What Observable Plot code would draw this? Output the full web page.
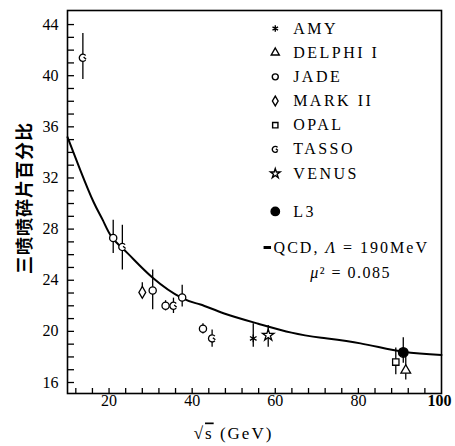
<!DOCTYPE html>
<html>
<head>
<meta charset="utf-8">
<script src="https://cdn.jsdelivr.net/npm/d3@7"></script>
<script src="https://cdn.jsdelivr.net/npm/@observablehq/plot@0.6"></script>
<style>
  html, body { margin: 0; padding: 0; background: #fff; }
  #chart svg { display: block; }
</style>
</head>
<body>
<div id="chart"></div>
<script>
// ---- data ----
const seriesNames = ["AMY", "DELPHI I", "JADE", "MARK II", "OPAL", "TASSO", "VENUS", "L3"];

// measurements: sqrt(s) in GeV, three-jet fraction (%), error bar low/high
const ptSeries = ["TASSO", "JADE", "TASSO", "MARK II", "JADE", "JADE", "TASSO", "JADE", "JADE", "TASSO", "AMY", "VENUS", "OPAL", "L3", "DELPHI I"];
const ptX      = [13.7, 21.0, 23.2, 28.0, 30.5, 33.6, 35.5, 37.6, 42.6, 44.8, 54.7, 58.3, 89.0, 90.8, 91.4];
const ptY      = [41.4, 27.3, 26.6, 23.05, 23.2, 22.0, 22.0, 22.65, 20.2, 19.45, 19.45, 19.7, 17.6, 18.35, 16.95];
const ptLo     = [39.7, 26.1, 24.8, 22.6, 21.7, 21.6, 21.4, 21.9, 19.8, 18.75, 18.75, 18.75, 16.6, 17.5, 16.2];
const ptHi     = [43.3, 28.7, 28.3, 23.8, 24.8, 22.4, 22.6, 23.6, 20.6, 20.1, 20.6, 20.45, 18.7, 19.5, 18.3];

// QCD curve (Λ = 190 MeV)
const qcdX = [10, 13.1, 16.3, 18.5, 20.7, 24.5, 30.5, 37.6, 42, 47.7, 55.9, 63.9, 71.1, 80.5, 90.8, 100];
const qcdY = [35.2, 32.6, 30.1, 28.7, 27.35, 26.1, 24.2, 22.6, 22.1, 21.4, 20.6, 19.9, 19.5, 19.06, 18.4, 18.15];

// axes
const xDomain = [10, 100];
const yDomain = [15.14, 45.1];
const xTickLabels = [20, 40, 60, 80];
const xTickLabelBold = [100];
const xMinorTicks = d3.range(12, 100, 4);
const yTickLabels = [16, 20, 24, 28, 32, 36, 40, 44];
const yMinorTicks = d3.range(16, 45, 1);
const xTitle = "√s (GeV)";
const yTitle = "三喷喷碎片百分比";

// legend texts
const qcdLabel = "QCD, Λ = 190MeV";
const muLabel = "μ² = 0.085";

// legend layout in data units
const legX = 60.0, legTextX = 64.3;
const legRowY = [43.69, 41.80, 39.91, 38.02, 36.13, 34.24, 32.34, 29.38];
const qcdRowY = 26.56, muRowY = 24.61;
const qcdTextX = 59.6, muTextX = 68.4, dashX1 = 57.3, dashX2 = 59.1;

// ---- symbols ----
const tassoSymbol = {
  draw(ctx, size) {
    const r = Math.sqrt(size / Math.PI);
    ctx.moveTo(r * Math.cos(0.7), r * Math.sin(0.7));
    ctx.arc(0, 0, r, 0.7, 2 * Math.PI - 0.7);
    ctx.moveTo(r * 0.2, -r * 0.2);
    ctx.lineTo(r * 0.9, r * 0.4);
  }
};
const symbolFor = {
  "AMY": "asterisk",
  "DELPHI I": "triangle",
  "JADE": "circle",
  "MARK II": "diamond",
  "OPAL": "square",
  "TASSO": tassoSymbol,
  "VENUS": "star",
  "L3": "circle"
};

const points = ptX.map((x, i) => ({series: ptSeries[i], x, y: ptY[i], lo: ptLo[i], hi: ptHi[i]}));
const qcd = qcdX.map((x, i) => ({x, y: qcdY[i]}));
const legend = seriesNames.map((name, i) => ({name, y: legRowY[i]}));

const W = 455, H = 446, ML = 67, MR = 14, MT = 10, MB = 53;
const plotW = W - ML - MR, plotH = H - MT - MB;
const SERIF = "'Liberation Serif', 'Times New Roman', serif";

const marks = [
  Plot.frame({stroke: "black", strokeWidth: 1.6}),
  Plot.tickY(yMinorTicks, {y: d => d, insetRight: plotW - 7, stroke: "black", strokeWidth: 1.3}),
  Plot.tickX(xMinorTicks, {x: d => d, insetTop: plotH - 5, stroke: "black", strokeWidth: 1.3}),
  Plot.text(yTickLabels, {y: d => d, text: d => String(d), frameAnchor: "left", dx: -9, textAnchor: "end", fontSize: 16}),
  Plot.text(xTickLabels, {x: d => d, text: d => String(d), frameAnchor: "bottom", dy: 12, textAnchor: "middle", fontSize: 16}),
  Plot.text(xTickLabelBold, {x: d => d, text: d => String(d), frameAnchor: "bottom", dy: 12, textAnchor: "middle", fontSize: 16, fontWeight: "bold", dx: -2}),
  Plot.text([xTitle], {text: d => d, frameAnchor: "bottom", textAnchor: "middle", dx: -21, dy: 45, fontSize: 17}),
  Plot.text([yTitle], {text: d => d, frameAnchor: "left", textAnchor: "middle", rotate: -90, dx: -42, dy: -4, fontSize: 18, fontWeight: "bold"}),
  Plot.line(qcd, {x: "x", y: "y", curve: "natural", stroke: "black", strokeWidth: 2}),
  Plot.ruleX(points, {x: "x", y1: "lo", y2: "hi", stroke: "black", strokeWidth: 1.3})
];

for (const name of seriesNames) {
  const filled = name === "L3";
  marks.push(Plot.dot(points.filter(d => d.series === name), {
    x: "x", y: "y", symbol: symbolFor[name], r: filled ? 4.8 : 3.6,
    fill: filled ? "black" : "white", stroke: "black", strokeWidth: 1.3
  }));
  marks.push(Plot.dot(legend.filter(d => d.name === name), {
    x: () => legX, y: "y", symbol: symbolFor[name], r: filled ? 4.2 : 3,
    fill: filled ? "black" : "white", stroke: "black", strokeWidth: 1.4
  }));
}

marks.push(
  Plot.text(legend, {x: () => legTextX, y: "y", text: "name", textAnchor: "start", fontSize: 16}),
  Plot.ruleY([qcdRowY], {x1: dashX1, x2: dashX2, y: d => d, stroke: "black", strokeWidth: 3}),
  Plot.text([qcdLabel], {x: () => qcdTextX, y: () => qcdRowY, text: d => d, textAnchor: "start", fontSize: 16}),
  Plot.text([muLabel], {x: () => muTextX, y: () => muRowY, text: d => d, textAnchor: "start", fontSize: 16})
);

const chart = Plot.plot({
  width: W, height: H,
  marginLeft: ML, marginRight: MR, marginTop: MT, marginBottom: MB,
  x: {domain: xDomain, axis: null},
  y: {domain: yDomain, axis: null},
  style: {fontFamily: SERIF, fontSize: "16px", background: "white", color: "black"},
  marks
});

document.getElementById("chart").append(chart);

// typographic touches: fonts, letter spacing, italics, radical overbar
const svg = d3.select(chart);
svg.selectAll("text").each(function() {
  const t = this.textContent;
  const sel = d3.select(this);
  sel.style("font-family", SERIF);
  if (seriesNames.includes(t)) sel.style("letter-spacing", "2.5px");
  if (t === yTitle) sel.style("letter-spacing", "1px").style("font-family", "'Noto Sans CJK SC', sans-serif");
  if (t === qcdLabel) {
    sel.style("letter-spacing", "2px").text(null);
    sel.append("tspan").text("QCD, ");
    sel.append("tspan").style("font-style", "italic").text("Λ");
    sel.append("tspan").text(" = 190MeV");
  }
  if (t === muLabel) {
    sel.style("letter-spacing", "1.5px").text(null);
    sel.append("tspan").style("font-style", "italic").text("μ");
    sel.append("tspan").text("² = 0.085");
  }
  if (t === xTitle) {
    sel.style("letter-spacing", "2px").text(null);
    sel.append("tspan").text("√");
    sel.append("tspan").style("text-decoration", "overline").text("s");
    sel.append("tspan").text(" (GeV)");
  }
});
</script>
</body>
</html>
